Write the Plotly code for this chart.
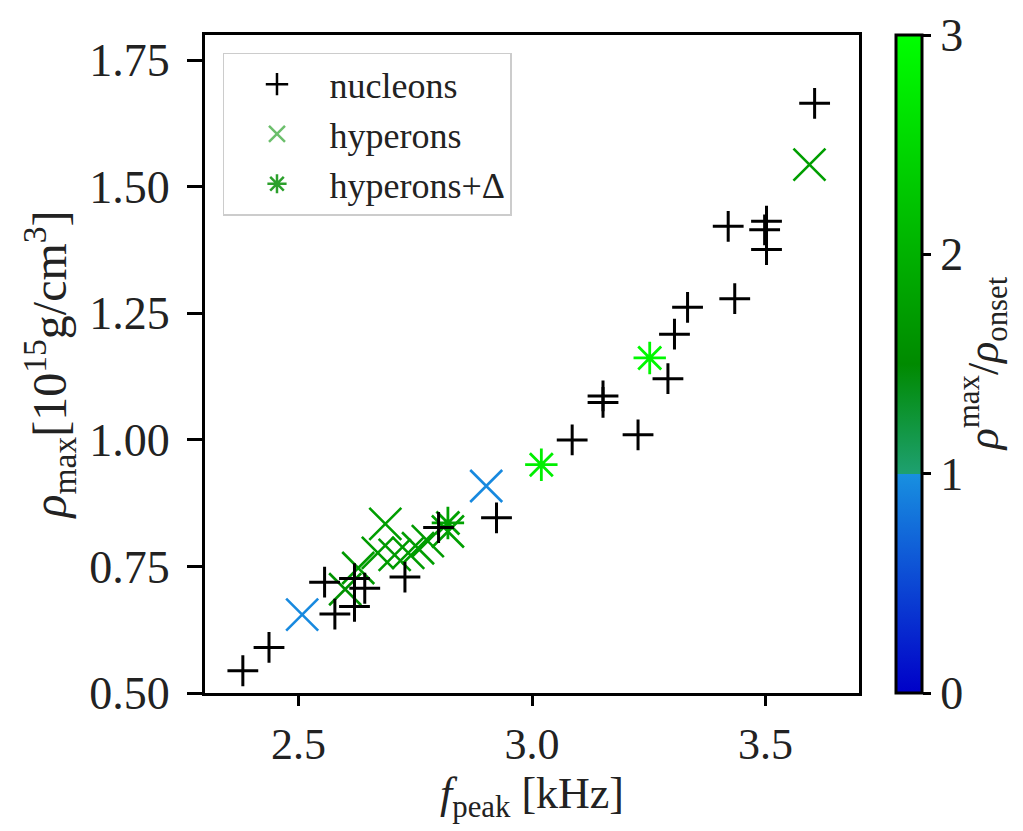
import plotly.graph_objects as go

# nucleons
nuc_f = [2.381, 2.437, 2.556, 2.578, 2.620, 2.620, 2.642, 2.728, 2.800, 2.924,
         3.086, 3.152, 3.152, 3.227, 3.291, 3.305, 3.333, 3.434, 3.420, 3.502,
         3.498, 3.502, 3.605]
nuc_rho = [0.544, 0.590, 0.719, 0.656, 0.726, 0.671, 0.707, 0.729, 0.827, 0.846,
           1.000, 1.087, 1.074, 1.010, 1.121, 1.209, 1.262, 1.279, 1.422, 1.432,
           1.415, 1.376, 1.665]

# hyperons
hyp_f = [2.508, 2.902, 2.600, 2.628, 2.670, 2.686, 2.706, 2.735, 2.756, 2.777, 2.820, 3.594]
hyp_rho = [0.655, 0.909, 0.705, 0.747, 0.777, 0.834, 0.773, 0.777, 0.786, 0.800, 0.819, 1.544]
hyp_ratio = [0.95, 0.95, 1.6, 1.7, 1.7, 1.75, 1.7, 1.7, 1.75, 1.7, 1.75, 1.75]

# hyperons + Delta
hd_f = [2.820, 3.020, 3.252]
hd_rho = [0.836, 0.951, 1.162]
hd_ratio = [1.8, 2.8, 2.9]

x_ticks = [2.5, 3.0, 3.5]
y_ticks = [0.50, 0.75, 1.00, 1.25, 1.50, 1.75]
cb_ticks = [0, 1, 2, 3]

cscale = [[0.0, '#0000c8'], [0.3333, '#1890e0'], [0.3334, '#1ea070'],
          [0.5, '#008a00'], [1.0, '#00ff00']]

FONT = 'Liberation Serif'
TXT = '#222222'

fig = go.Figure()

fig.add_trace(go.Scatter(
    x=hyp_f, y=hyp_rho, mode='markers', showlegend=False,
    marker=dict(symbol='x-thin', size=32, color=hyp_ratio, colorscale=cscale,
                cmin=0, cmax=3, showscale=True,
                colorbar=dict(x=1.0566, xanchor='left', y=0.5, yanchor='middle',
                              len=1, lenmode='fraction', thickness=26,
                              outlinewidth=3, outlinecolor='black',
                              tickvals=cb_ticks, ticks='outside', ticklen=8,
                              tickwidth=2.5, tickcolor='black',
                              tickfont=dict(family=FONT, size=46, color=TXT),
                              xpad=0, ypad=0),
                line=dict(width=2.6, color=hyp_ratio, colorscale=cscale, cmin=0, cmax=3)),
))
fig.add_trace(go.Scatter(
    x=hd_f, y=hd_rho, mode='markers', showlegend=False,
    marker=dict(symbol='asterisk', size=27, color=hd_ratio, colorscale=cscale,
                cmin=0, cmax=3, showscale=False,
                line=dict(width=2.8, color=hd_ratio, colorscale=cscale, cmin=0, cmax=3)),
))
fig.add_trace(go.Scatter(
    x=nuc_f, y=nuc_rho, mode='markers', showlegend=False,
    marker=dict(symbol='cross-thin', size=22, color='black',
                line=dict(width=3, color='black')),
))

# legend entries
fig.add_trace(go.Scatter(x=[None], y=[None], mode='markers', name='nucleons',
                         legendgroup='a',
                         marker=dict(symbol='cross-thin', size=16, color='black',
                                     line=dict(width=2.5, color='black'))))
fig.add_trace(go.Scatter(x=[None], y=[None], mode='markers', name='hyperons',
                         legendgroup='b',
                         marker=dict(symbol='x-thin', size=16, color='#6cbf6c',
                                     line=dict(width=2.5, color='#6cbf6c'))))
fig.add_trace(go.Scatter(x=[None], y=[None], mode='markers', name='hyperons+Δ',
                         legendgroup='c',
                         marker=dict(symbol='asterisk', size=16, color='#2ca02c',
                                     line=dict(width=2.5, color='#2ca02c'))))

axis_common = dict(showline=True, mirror=True, linewidth=3, linecolor='black',
                   ticks='outside', tickwidth=3, tickcolor='black',
                   showgrid=False, zeroline=False)

fig.update_xaxes(range=[2.3, 3.7], tickvals=x_ticks, tickformat='.1f',
                 ticklen=10, ticklabelstandoff=0,
                 tickfont=dict(family=FONT, size=44, color=TXT),
                 **axis_common)
fig.update_yaxes(range=[0.5, 1.8], tickvals=y_ticks, tickformat='.2f',
                 ticklen=15, ticklabelstandoff=8,
                 tickfont=dict(family=FONT, size=46, color=TXT),
                 title=dict(text='<i>ρ</i><sub>max</sub>[10<sup>15</sup>g/cm<sup>3</sup>]',
                            font=dict(family=FONT, size=48, color=TXT), standoff=8),
                 **axis_common)

fig.add_annotation(text='<i>f</i><sub>peak</sub> [kHz]',
                   xref='paper', yref='paper', x=0.5, y=-0.158,
                   showarrow=False, xanchor='center', yanchor='middle',
                   font=dict(family=FONT, size=44, color=TXT))

fig.add_annotation(text='<i>ρ</i><sup>max</sup>/<i>ρ</i><sub>onset</sub>',
                   xref='paper', yref='paper',
                   x=1.19, y=0.5, showarrow=False, textangle=-90,
                   font=dict(family=FONT, size=44, color=TXT),
                   xanchor='center', yanchor='middle')

fig.update_layout(
    width=1023, height=831,
    margin=dict(l=197, r=172, t=27, b=146),
    paper_bgcolor='white', plot_bgcolor='white',
    legend=dict(x=0.0275, y=0.973, xanchor='left', yanchor='top',
                bgcolor='rgba(255,255,255,0.8)', bordercolor='#cccccc', borderwidth=1.5,
                font=dict(family=FONT, size=36, color=TXT),
                itemwidth=95, tracegroupgap=3, traceorder='normal'),
)

fig.write_html('out.html')
